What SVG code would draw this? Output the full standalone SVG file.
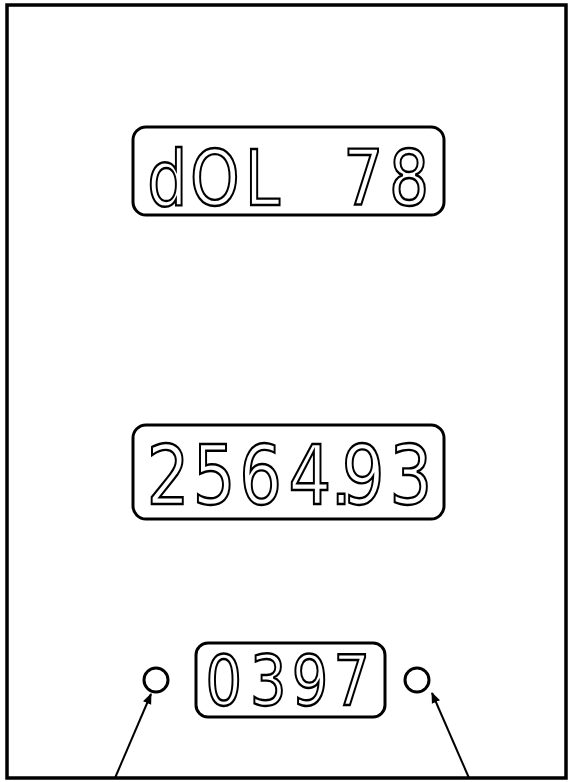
<svg xmlns="http://www.w3.org/2000/svg" width="572" height="782" viewBox="0 0 572 782">
<style>
.frame{fill:#fff;stroke:#000;stroke-width:3.5}
.disp{fill:#fff;stroke:#000;stroke-width:3}
.seg{font-family:"DejaVu Sans","Liberation Sans",sans-serif;fill:#fff;stroke:#000;stroke-width:2.4;text-anchor:middle}
.knob{fill:#fff;stroke:#000;stroke-width:3}
.lead{stroke:#000;stroke-width:2;fill:none}
</style>
<defs>
<marker id="ah" viewBox="0 0 10 10" refX="9" refY="5" markerWidth="11" markerHeight="11" markerUnits="userSpaceOnUse" orient="auto">
<path d="M0,1 L10,5 L0,9 Z" fill="#000"/>
</marker>
</defs>
<rect class="frame" x="7" y="5" width="559" height="773"/>
<g id="display-top">
<rect class="disp" x="133" y="127" width="311" height="88" rx="13"/>
<text class="seg" transform="scale(0.82,1)" x="204 262 320 380 443 499" y="205" font-size="77">dOL 78</text>
</g>
<g id="display-middle">
<rect class="disp" x="133" y="425" width="311" height="94" rx="13"/>
<text class="seg" transform="scale(0.82,1)" x="205 261 318 378 416 443 501" y="504" font-size="82">2564.93</text>
</g>
<g id="display-bottom">
<rect class="disp" x="196" y="643" width="189" height="74" rx="12"/>
<text class="seg" transform="scale(0.82,1)" x="273 327 378 429" y="705" font-size="70">0397</text>
</g>
<g id="knob-left"><circle class="knob" cx="156" cy="680" r="12"/></g>
<g id="knob-right"><circle class="knob" cx="417" cy="680" r="12"/></g>
<g id="connectors">
<line class="lead" x1="115" y1="778" x2="151" y2="694" marker-end="url(#ah)"/>
<line class="lead" x1="469" y1="778" x2="432" y2="693" marker-end="url(#ah)"/>
</g>
</svg>
